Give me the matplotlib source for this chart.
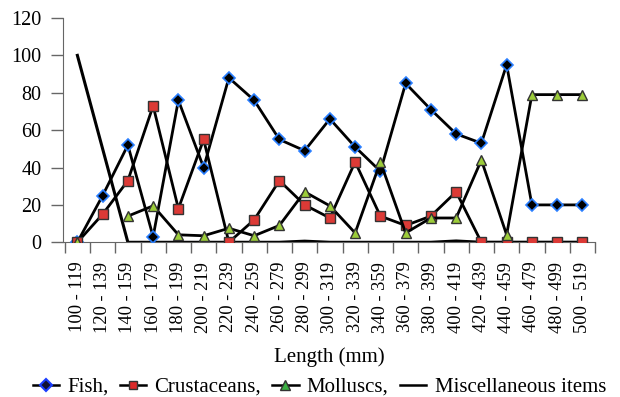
import numpy as np
import matplotlib
matplotlib.use("Agg")
import matplotlib.pyplot as plt
from matplotlib.lines import Line2D

FAM = 'Liberation Serif'
plt.rcParams['font.family'] = [FAM, 'DejaVu Serif']

categories = ["100 - 119", "120 - 139", "140 - 159", "160 - 179", "180 - 199",
              "200 - 219", "220 - 239", "240 - 259", "260 - 279", "280 - 299",
              "300 - 319", "320 - 339", "340 - 359", "360 - 379", "380 - 399",
              "400 - 419", "420 - 439", "440 - 459", "460 - 479", "480 - 499",
              "500 - 519"]
fish = [0, 25, 52, 3, 76, 40, 88, 76, 55, 49, 66, 51, 38, 85, 71, 58, 53, 95, 20, 20, 20]
crustaceans = [0, 15, 33, 73, 18, 55, 0, 12, 33, 20, 13, 43, 14, 9, 14, 27, 0, 0, 0, 0, 0]
molluscs = [0, np.nan, 14, 19.5, 4, 3.5, 7.5, 3.5, 9, 27, 19.5, 5, 43, 5, 13, 13, 44, 4, 79, 79, 79]
misc = [100, np.nan, 0, 0, 0, 0, 0, 0, 0, 0.6, 0, 0, 0, 0, 0, 0.7, 0, 0, 0, 0, 0]
yticks = [0, 20, 40, 60, 80, 100, 120]

fig = plt.figure(figsize=(6.2, 3.97), dpi=100)
ax = fig.add_axes([0.1024, 0.3897, 0.8573, 0.5650])

x = np.arange(len(categories))
lw = 2.0
ax.plot(x, fish, color='black', lw=lw, marker='D', markersize=6.5,
        markerfacecolor='black', markeredgecolor='#2a7fff', markeredgewidth=1.2, zorder=3)
ax.plot(x, crustaceans, color='black', lw=lw, marker='s', markersize=6.8,
        markerfacecolor='#dc3a36', markeredgecolor='#333333', markeredgewidth=1.0, zorder=3)
ax.plot(x, molluscs, color='black', lw=lw, marker='^', markersize=7.2,
        markerfacecolor='#9ccc3a', markeredgecolor='#333333', markeredgewidth=1.0, zorder=3)
misc_arr = np.array(misc, dtype=float)
m = ~np.isnan(misc_arr)
ax.plot(x[m], misc_arr[m], color='black', lw=2.2, zorder=2)

ax.set_xlim(-0.55, 20.5)
ax.set_ylim(0, 120)
ax.set_yticks(yticks)
ax.set_yticklabels([str(v) for v in yticks], fontsize=14.5, fontfamily=FAM)
ax.set_xticks(np.arange(-0.5, 20.6, 1.0))
ax.set_xticklabels([])
ax.set_xticks(x, minor=True)
ax.set_xticklabels(categories, minor=True, rotation=90, fontsize=13.3, fontfamily=FAM,
                   va='top', ha='center')
ax.tick_params(axis='x', which='minor', length=0, pad=14)
ax.tick_params(axis='x', which='major', length=8, width=1, color='#666666', direction='out')
ax.tick_params(axis='y', length=8.5, width=1, color='#666666', direction='out', pad=7.5)
for s in ['top', 'right']:
    ax.spines[s].set_visible(False)
ax.spines['left'].set_color('#666666')
ax.spines['bottom'].set_color('#666666')

ax.set_xlabel("Length (mm)", fontsize=15, fontfamily=FAM, labelpad=10)

handles = [
    Line2D([], [], color='black', lw=1.8, marker='D', markersize=6,
           markerfacecolor='#111133', markeredgecolor='#1a3dff', markeredgewidth=1.5),
    Line2D([], [], color='black', lw=1.8, marker='s', markersize=6,
           markerfacecolor='#dc2a2a', markeredgecolor='#333333'),
    Line2D([], [], color='black', lw=1.8, marker='^', markersize=7,
           markerfacecolor='#3cb043', markeredgecolor='#333333'),
    Line2D([], [], color='black', lw=1.8),
]
labels = ["Fish,", "Crustaceans,", "Molluscs,", "Miscellaneous items"]
fig.legend(handles, labels, loc='center', bbox_to_anchor=(0.515, 0.025), ncol=4,
           frameon=False, prop={'family': FAM, 'size': 15}, handlelength=1.25,
           handletextpad=0.4, columnspacing=0.55, borderaxespad=0, borderpad=0)

fig.savefig("out.png", dpi=100)
